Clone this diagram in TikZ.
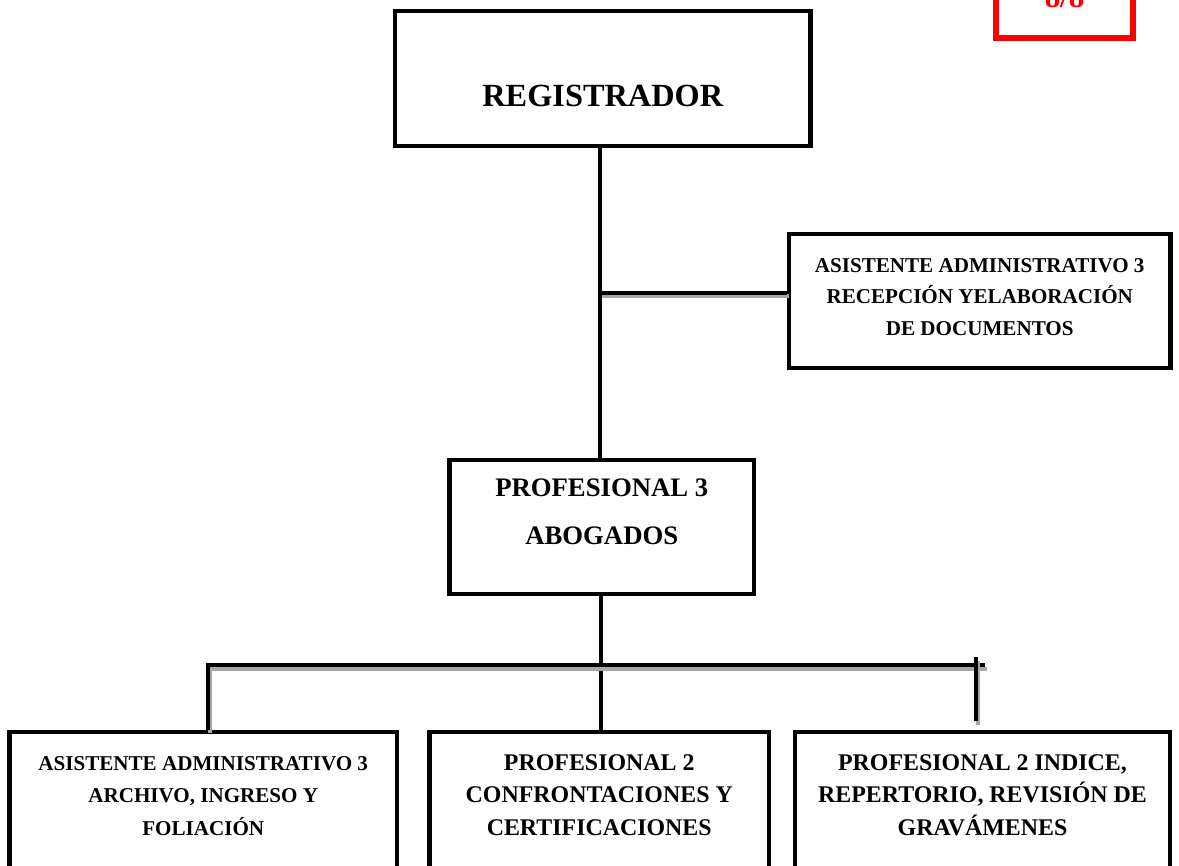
\documentclass[tikz,border=0pt]{standalone}
\usepackage{fontspec}
\setmainfont{Liberation Serif}
\usetikzlibrary{calc}

\begin{document}
\begin{tikzpicture}[
  x=0.25mm, y=-0.25mm,
  font=\bfseries,
  obox/.style={draw=black, line width=1.1mm, align=center, inner sep=0pt},
  topbox/.style={obox, minimum width=103.9mm, minimum height=33.75mm},
  midbox/.style={obox, minimum height=33.5mm, text depth=0pt},
  lowbox/.style={obox, anchor=north, minimum height=60mm, text height=0pt, text depth=8.25mm},
  tagbox/.style={draw=red, line width=1.5mm, text=red, inner sep=0pt, anchor=south,
                 minimum width=34.25mm, minimum height=25mm, text height=9.5mm, text depth=0pt},
  conn/.style={line width=1mm},
  bus/.style={conn, preaction={draw=black!35, line width=1mm, transform canvas={xshift=0.5mm, yshift=-0.9mm}}}
]
\useasboundingbox (0,0) rectangle (1179,865);
\clip (0,0) rectangle (1179,865);
% ----- top of the chart -----
\node[topbox, text height=13.75mm, text depth=0pt, font=\fontsize{23}{28}\selectfont\bfseries] (reg)
  at (602.75,78.5) {REGISTRADOR};
\node[midbox, minimum width=95.4mm, text height=17mm, font=\fontsize{15}{22.4}\selectfont\bfseries] (asis)
  at (979.75,301) {ASISTENTE ADMINISTRATIVO 3\\RECEPCIÓN YELABORACIÓN\\DE DOCUMENTOS};
\node[midbox, minimum width=76.1mm, text height=9.1mm, font=\fontsize{19}{34.7}\selectfont\bfseries] (prof)
  at (601.75,526.75) {PROFESIONAL 3\\ABOGADOS};
% ----- page tag, top right -----
\node[tagbox, font=\fontsize{22}{26}\selectfont\bfseries] (page) at (1064.5,41) {8/8};
% ----- bottom row -----
\node[lowbox, minimum width=96.9mm, font=\fontsize{15}{23}\selectfont\bfseries] (arch)
  at (203.25,729.5) {ASISTENTE ADMINISTRATIVO 3\\ARCHIVO, INGRESO Y\\FOLIACIÓN};
\node[lowbox, minimum width=84.9mm, font=\fontsize{17}{23}\selectfont\bfseries] (conf)
  at (599.25,729.5) {PROFESIONAL 2\\CONFRONTACIONES Y\\CERTIFICACIONES};
\node[lowbox, minimum width=93.75mm, font=\fontsize{17}{23}\selectfont\bfseries] (indx)
  at (982.5,729.5) {PROFESIONAL 2 INDICE,\\REPERTORIO, REVISIÓN DE\\GRAVÁMENES};
% ----- connectors -----
\coordinate (tap)  at (600,292.5);
\coordinate (mid)  at (601,665);
\coordinate (busL) at (207.5,665);
\coordinate (busR) at (985,665);
\coordinate (dropT) at (976,657);
\coordinate (dropB) at (976,721);
\draw[conn] (reg.south -| tap) -- (prof.north -| tap);
\draw[bus] (tap) -- (tap -| asis.west);
\draw[conn] (prof.south -| mid) -- (conf.north -| mid);
\draw[bus] (arch.north -| busL) |- (busR);
\draw[bus] (dropT) -- (dropB);
\end{tikzpicture}
\end{document}
